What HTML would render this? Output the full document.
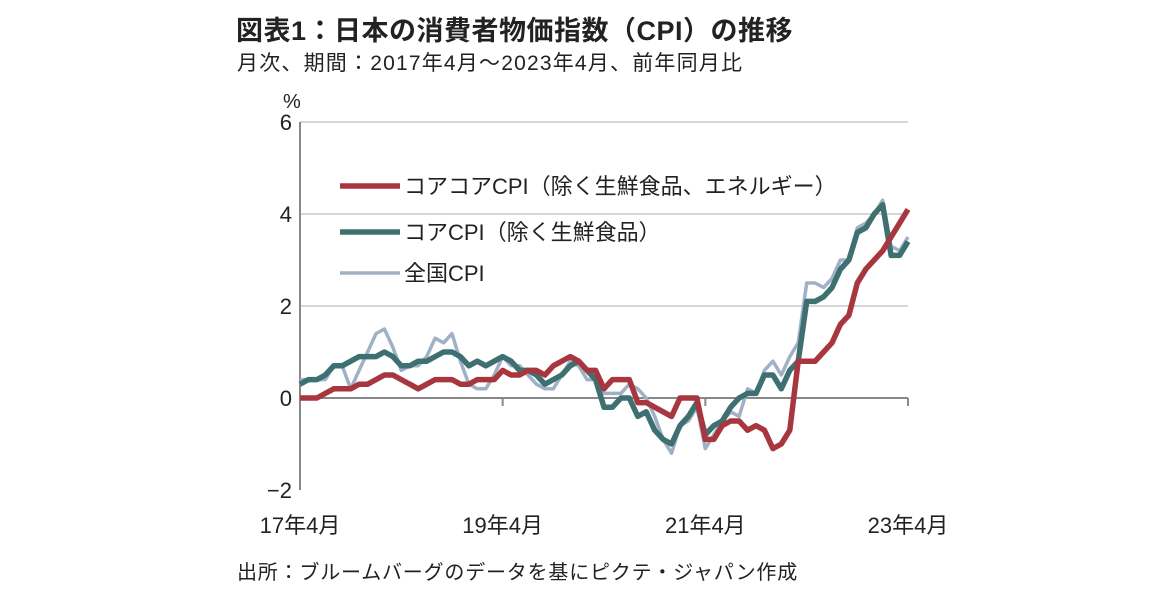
<!DOCTYPE html>
<html><head><meta charset="utf-8"><style>
body{margin:0;background:#fff;font-family:"Liberation Sans","Noto Sans CJK JP",sans-serif;}
#wrap{position:relative;width:1152px;height:598px;overflow:hidden;}
.t{position:absolute;white-space:nowrap;color:#222;}
</style></head><body>
<div id="wrap">
<div class="t" style="left:236px;top:9px;font-size:27px;font-weight:bold;letter-spacing:0.5px;">図表1：日本の消費者物価指数（CPI）の推移</div>
<div class="t" style="left:237px;top:47px;font-size:21px;letter-spacing:1.2px;">月次、期間：2017年4月～2023年4月、前年同月比</div>
<div class="t" style="left:237px;top:556px;font-size:20px;letter-spacing:0.8px;">出所：ブルームバーグのデータを基にピクテ・ジャパン作成</div>
<svg id="chart" width="1152" height="598" style="position:absolute;left:0;top:0"></svg>
</div>
<script>
const yTicks=[6,4,2,0,-2];
const xTickLabels=["17年4月","19年4月","21年4月","23年4月"];
const xTickIdx=[0,24,48,72];
const coreCore=[0.0,0.0,0.0,0.1,0.2,0.2,0.2,0.3,0.3,
0.4,0.5,0.5,0.4,0.3,0.2,0.3,0.4,0.4,0.4,0.3,0.3,
0.4,0.4,0.4,0.6,0.5,0.5,0.6,0.6,0.5,0.7,0.8,0.9,
0.8,0.6,0.6,0.2,0.4,0.4,0.4,-0.1,-0.1,-0.2,-0.3,-0.4,
0.0,0.0,0.0,-0.9,-0.9,-0.6,-0.5,-0.5,-0.7,-0.6,-0.7,-1.1,
-1.0,-0.7,0.8,0.8,0.8,1.0,1.2,1.6,1.8,2.5,2.8,3.0,
3.2,3.5,3.8,4.1];
const core=[0.3,0.4,0.4,0.5,0.7,0.7,0.8,0.9,0.9,
0.9,1.0,0.9,0.7,0.7,0.8,0.8,0.9,1.0,1.0,0.9,0.7,
0.8,0.7,0.8,0.9,0.8,0.6,0.6,0.5,0.3,0.4,0.5,0.7,
0.8,0.6,0.4,-0.2,-0.2,0.0,0.0,-0.4,-0.3,-0.7,-0.9,-1.0,
-0.6,-0.4,-0.1,-0.8,-0.6,-0.5,-0.2,0.0,0.1,0.1,0.5,0.5,
0.2,0.6,0.8,2.1,2.1,2.2,2.4,2.8,3.0,3.6,3.7,4.0,
4.2,3.1,3.1,3.4];
const headline=[0.4,0.4,0.4,0.4,0.7,0.7,0.2,0.6,1.0,
1.4,1.5,1.1,0.6,0.7,0.7,0.9,1.3,1.2,1.4,0.8,0.3,
0.2,0.2,0.5,0.9,0.7,0.7,0.5,0.3,0.2,0.2,0.5,0.8,
0.7,0.4,0.4,0.1,0.1,0.1,0.3,0.2,0.0,-0.4,-0.9,-1.2,
-0.6,-0.5,-0.2,-1.1,-0.8,-0.5,-0.3,-0.4,0.2,0.1,0.6,0.8,
0.5,0.9,1.2,2.5,2.5,2.4,2.6,3.0,3.0,3.7,3.8,4.0,
4.3,3.3,3.2,3.5];
const seriesNames=["コアコアCPI（除く生鮮食品、エネルギー）","コアCPI（除く生鮮食品）","全国CPI"];
const NS="http://www.w3.org/2000/svg";
const svg=document.getElementById('chart');
const X0=300,X1=908,Y6=122,Y_2=490;
function xs(i){return X0+(X1-X0)*i/72;}
function ys(v){return Y6+(6-v)*(Y_2-Y6)/8;}
function mk(tag,attrs){const e=document.createElementNS(NS,tag);for(const k in attrs)e.setAttribute(k,attrs[k]);svg.appendChild(e);return e;}
yTicks.forEach(v=>{
  if(v>0){const g=mk('line',{x1:X0,x2:X1,y1:ys(v),y2:ys(v),stroke:'#d6d6d6','stroke-width':2});
  
  }
  const t=mk('text',{x:292,y:ys(v)+8,'text-anchor':'end','font-size':22,fill:'#222','font-family':'Liberation Sans, sans-serif'});
  t.textContent=v<0?'−'+Math.abs(v):String(v);
  
  
});
const pct=mk('text',{x:283,y:108,'font-size':20,fill:'#222'});pct.textContent='%';


const ax=mk('line',{x1:X0,x2:X0,y1:Y6,y2:Y_2,stroke:'#888','stroke-width':2});


const zl=mk('line',{x1:X0,x2:X1,y1:ys(0),y2:ys(0),stroke:'#888','stroke-width':2});


xTickIdx.forEach((i,k)=>{
  const tk=mk('line',{x1:xs(i),x2:xs(i),y1:ys(0),y2:ys(0)+8,stroke:'#888','stroke-width':2});
  
  
  const t=mk('text',{x:xs(i),y:533,'text-anchor':'middle','font-size':22,fill:'#222','font-family':'Liberation Sans, Noto Sans CJK JP, sans-serif'});
  t.textContent=xTickLabels[k];
  
  
});
const series=[[headline,'#a0b1c6',3.5,'series-headline-cpi'],[core,'#3e7072',5.5,'series-core-cpi'],[coreCore,'#a7363e',5.5,'series-core-core-cpi']];
series.forEach(s=>{
  const d=s[0].map((v,i)=>(i?'L':'M')+xs(i).toFixed(1)+','+ys(v).toFixed(1)).join(' ');
  const p=mk('path',{d:d,fill:'none',stroke:s[1],'stroke-width':s[2],'stroke-linejoin':'round'});
  
  
});
const leg=[['#a7363e',5.5,186],['#3e7072',5.5,232],['#a0b1c6',3.5,273]];
leg.forEach((l,k)=>{
  const ln=mk('line',{x1:340,x2:400,y1:l[2],y2:l[2],stroke:l[0],'stroke-width':l[1]});
  
  
  const t=mk('text',{x:404,y:l[2]+8,'font-size':22,fill:'#222','font-family':'Liberation Sans, Noto Sans CJK JP, sans-serif'});
  t.textContent=seriesNames[k];
  
  
});
</script>
</body></html>
